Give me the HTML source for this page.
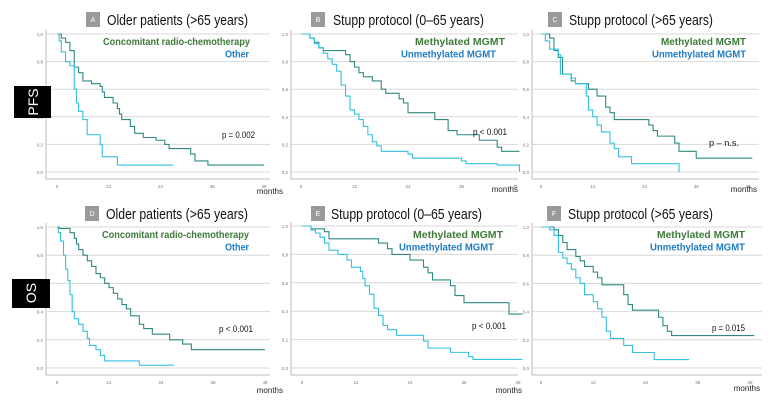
<!DOCTYPE html>
<html><head><meta charset="utf-8"><style>
body{margin:0;background:#fff;}
svg{display:block;font-family:"Liberation Sans",sans-serif;}
</style></head><body>
<svg id="fig" width="780" height="403" viewBox="0 0 780 403" xmlns="http://www.w3.org/2000/svg">
</svg>
<script>
// Panel A (PFS, older patients)
const aT1=[1,2,3,4,5,6,8,10,10.5,11,13,14,14.5,15,17,18,20,23,25,26,31,32,35];
const aS1=[0.97,0.94,0.88,0.76,0.72,0.66,0.64,0.62,0.58,0.54,0.5,0.46,0.42,0.38,0.33,0.28,0.25,0.23,0.2,0.17,0.13,0.08,0.05];
const aT2=[0.5,1,2,3,4,4.5,5,6,7,10,10.5,14];
const aS2=[0.95,0.87,0.8,0.77,0.6,0.5,0.44,0.38,0.27,0.2,0.11,0.05];
const aEnd=[48,27];
// Panel B
const bT1=[2,3,4,5,10,11,12,13,14,16,18,19,22,23,24,30,33,35,40,44,45];
const bS1=[0.97,0.94,0.9,0.88,0.85,0.8,0.76,0.72,0.69,0.66,0.6,0.57,0.53,0.5,0.43,0.38,0.3,0.27,0.23,0.18,0.15];
const bT2=[2,3,4,5,6,7,8,9,10,11,12,13,14,15,16,17,18,24,25,36,37,44,49];
const bS2=[0.97,0.93,0.9,0.86,0.82,0.78,0.73,0.63,0.55,0.45,0.42,0.38,0.33,0.27,0.22,0.19,0.15,0.13,0.1,0.08,0.06,0.05,0];
const bEnd=[49,49];
// Panel C
const cT1=[2,3,4,5,7,8,11,13,15,16,17,25,26,27,31,32,36];
const cS1=[0.97,0.88,0.83,0.71,0.66,0.64,0.6,0.55,0.47,0.43,0.38,0.34,0.3,0.26,0.21,0.15,0.1];
const cT2=[1,2,4,4.5,7,8,10.5,11,12,13,14,16,17,18,21,32];
const cS2=[0.95,0.89,0.85,0.71,0.68,0.64,0.55,0.45,0.4,0.34,0.29,0.21,0.17,0.11,0.06,0];
const cEnd=[49,32];
// Panel D
const dT1=[0.5,3,4,4.5,5,6,7,8,9,10,11,12,13,14,15,16,17,19,20,22,26,29,31];
const dS1=[0.99,0.96,0.92,0.88,0.84,0.8,0.76,0.72,0.67,0.64,0.6,0.57,0.53,0.49,0.45,0.42,0.37,0.31,0.28,0.24,0.2,0.17,0.13];
const dT2=[0.3,0.8,1.5,2,2.5,3,3.5,4,5,6,7,7.5,9,10,11,19];
const dS2=[0.96,0.9,0.8,0.7,0.62,0.52,0.4,0.35,0.31,0.26,0.21,0.16,0.13,0.09,0.05,0.02];
const dEnd=[48,27];
// Panel E
const eT1=[2,5,6,17,19,20,24,27,28,29,33,34,36,46];
const eS1=[0.98,0.96,0.91,0.88,0.84,0.8,0.76,0.71,0.67,0.62,0.58,0.51,0.46,0.38];
const eT2=[2,3,4,5,6,8,10,11,13,13.5,14,15,16,17,18,19,21,27,28,33,37,38];
const eS2=[0.97,0.95,0.92,0.88,0.83,0.8,0.76,0.71,0.68,0.63,0.58,0.52,0.42,0.37,0.3,0.27,0.23,0.19,0.14,0.11,0.08,0.06];
const eEnd=[49,49];
// Panel F
const fT1=[3,4,5,6,8,9,10,12,13,14,19,20,21,27,28,29,30];
const fS1=[0.98,0.94,0.89,0.84,0.79,0.76,0.72,0.68,0.64,0.59,0.52,0.45,0.41,0.36,0.3,0.26,0.23];
const fT2=[2,3,4,5,6,7,8,9,10,12,13,14,15,16,19,21,26];
const fS2=[0.98,0.94,0.82,0.78,0.74,0.7,0.64,0.6,0.52,0.47,0.42,0.36,0.26,0.21,0.16,0.11,0.06];
const fEnd=[49,34];
const xTicks=[0,12,24,36,48];
const yTicks=[0,0.2,0.4,0.6,0.8,1.0];

const NS="http://www.w3.org/2000/svg";
const svg=document.getElementById('fig');
function mk(tag,attrs,parent){const e=document.createElementNS(NS,tag);for(const k in attrs)e.setAttribute(k,attrs[k]);(parent||svg).appendChild(e);return e;}

const panels=[
 {id:'a',L:'A',title:'Older patients (>65 years)',tw:141,leg:['Concomitant radio-chemotherapy','Other'],lw:[147,24],p:'p = 0.002',pw:33,x0:57,x48:264,y1:34,y0:172,axL:46,gR:270,box:86,tx:107,ty:25,legR:[250,249],legY:45,pX:255,pY:138,mX:283,mY:194,T1:aT1,S1:aS1,T2:aT2,S2:aS2,E:aEnd},
 {id:'b',L:'B',title:'Stupp protocol (0–65 years)',tw:151,leg:['Methylated MGMT','Unmethylated MGMT'],lw:[90,95],p:'p < 0.001',pw:34,x0:301,x48:515,y1:34,y0:172,axL:291,gR:518,box:311,tx:333,ty:25,legR:[505,496],legY:45,pX:507,pY:135,mX:518,mY:192,T1:bT1,S1:bS1,T2:bT2,S2:bS2,E:bEnd},
 {id:'c',L:'C',title:'Stupp protocol (>65 years)',tw:144,leg:['Methylated MGMT','Unmethylated MGMT'],lw:[85,94],p:'p – n.s.',pw:30,x0:541,x48:748,y1:34,y0:172,axL:532,gR:759,box:548,tx:569,ty:25,legR:[746,746],legY:45,pX:739,pY:146,mX:757,mY:192,T1:cT1,S1:cS1,T2:cT2,S2:cS2,E:cEnd},
 {id:'d',L:'D',title:'Older patients (>65 years)',tw:142,leg:['Concomitant radio-chemotherapy','Other'],lw:[147,24],p:'p < 0.001',pw:34,x0:57,x48:265,y1:227,y0:368,axL:46,gR:270,box:85,tx:106,ty:219,legR:[249,249],legY:238,pX:253,pY:332,mX:283,mY:393,T1:dT1,S1:dS1,T2:dT2,S2:dS2,E:dEnd},
 {id:'e',L:'E',title:'Stupp protocol (0–65 years)',tw:151,leg:['Methylated MGMT','Unmethylated MGMT'],lw:[90,95],p:'p < 0.001',pw:34,x0:302,x48:518,y1:226,y0:368,axL:291,gR:518,box:311,tx:331,ty:219,legR:[503,494],legY:238,pX:506,pY:329,mX:522,mY:393,T1:eT1,S1:eS1,T2:eT2,S2:eS2,E:eEnd},
 {id:'f',L:'F',title:'Stupp protocol (>65 years)',tw:145,leg:['Methylated MGMT','Unmethylated MGMT'],lw:[88,95],p:'p = 0.015',pw:33,x0:541,x48:750,y1:227,y0:368,axL:532,gR:762,box:547,tx:568,ty:219,legR:[745,745],legY:238,pX:745,pY:331,mX:760,mY:391,T1:fT1,S1:fS1,T2:fT2,S2:fS2,E:fEnd}
];

panels.forEach(P=>{
 const xs=m=>P.x0+(P.x48-P.x0)*m/48;
 const ys=v=>P.y0-(P.y0-P.y1)*v;
 const g=mk('g',{});
 
 
 yTicks.forEach(v=>{
  const l=mk('line',{x1:P.axL,x2:P.gR,y1:ys(v),y2:ys(v),stroke:'#d8d8d8','stroke-width':1},g);
  
  
  const t=mk('text',{x:P.axL-3,y:ys(v)+2,'text-anchor':'end','font-size':4.5,fill:'#777'},g);
  t.textContent=v.toFixed(1).replace('.',',');
  
  
 });
 const ax=mk('path',{d:`M${P.axL},${P.y1-4}V${P.y0+7}H${P.gR}`,stroke:'#bbb',fill:'none','stroke-width':1},g);
 
 
 xTicks.forEach(m=>{
  const t=mk('text',{x:xs(m),y:P.y0+16,'text-anchor':'middle','font-size':4.5,fill:'#777'},g);
  t.textContent=m;
  
  
 });
 const mo=mk('text',{x:P.mX,y:P.mY,'text-anchor':'end','font-size':8,fill:'#222'},g);
 mo.textContent='months';
 
 
 const bx=mk('rect',{x:P.box,y:P.ty-13,width:14,height:15,fill:'#9a9a9a'},g);
 
 
 const bl=mk('text',{x:P.box+7,y:P.ty-3,'text-anchor':'middle','font-size':7,fill:'#fff'},g);
 bl.textContent=P.L;
 
 
 const ti=mk('text',{x:P.tx,y:P.ty,'font-size':15,fill:'#111',textLength:P.tw,lengthAdjust:'spacingAndGlyphs'},g);
 ti.textContent=P.title;
 
 
 const series=[[P.T1,P.S1,P.E[0],'#2e8a80'],[P.T2,P.S2,P.E[1],'#35c0e0']];
 series.forEach((s,i)=>{
  let d=`M${xs(0)},${ys(1)}`;
  for(let k=0;k<s[0].length;k++){d+=`H${xs(s[0][k])}V${ys(s[1][k])}`;}
  d+=`H${xs(s[2])}`;
  const p=mk('path',{d:d,fill:'none',stroke:s[3],'stroke-width':1.1},g);
  
  
 });
 const l1=mk('text',{x:P.legR[0]-P.lw[0],y:P.legY,'font-size':10.5,'font-weight':'bold',fill:'#3d7a3a',textLength:P.lw[0],lengthAdjust:'spacingAndGlyphs'},g);
 l1.textContent=P.leg[0];
 
 
 const l2=mk('text',{x:P.legR[1]-P.lw[1],y:P.legY+12.5,'font-size':10.5,'font-weight':'bold',fill:'#1f7cc4',textLength:P.lw[1],lengthAdjust:'spacingAndGlyphs'},g);
 l2.textContent=P.leg[1];
 
 
 const pv=mk('text',{x:P.pX-P.pw,y:P.pY,'font-size':9.5,fill:'#111',textLength:P.pw,lengthAdjust:'spacingAndGlyphs'},g);
 pv.textContent=P.p;
 
 
});

const r1=mk('g',{});


mk('rect',{x:14,y:86,width:37,height:32,fill:'#000'},r1);
const t1=mk('text',{transform:'translate(38,102) rotate(-90)','text-anchor':'middle',fill:'#fff','font-size':14},r1);
t1.textContent='PFS';
const r2=mk('g',{});


mk('rect',{x:12,y:279,width:38,height:29,fill:'#000'},r2);
const t2=mk('text',{transform:'translate(36,293) rotate(-90)','text-anchor':'middle',fill:'#fff','font-size':14},r2);
t2.textContent='OS';
</script>
</body></html>
